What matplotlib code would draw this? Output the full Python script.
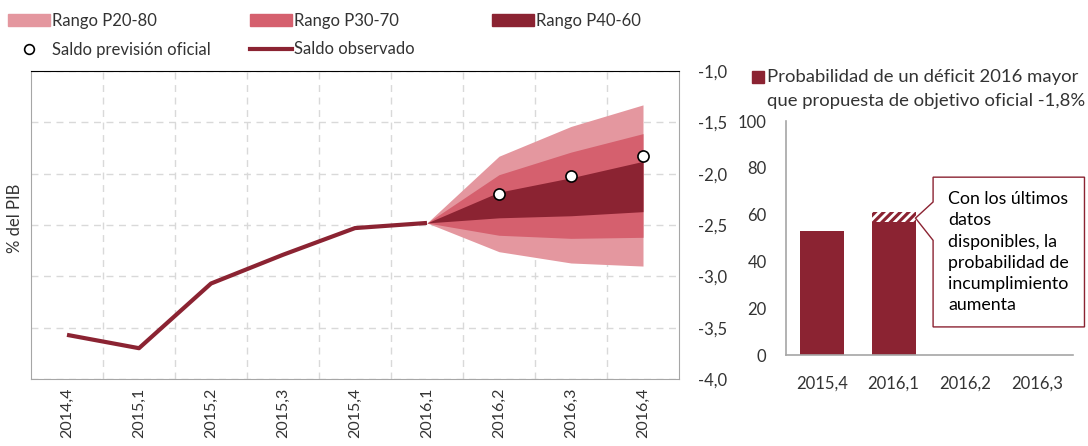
import numpy as np
import matplotlib
matplotlib.use('Agg')
import matplotlib.pyplot as plt
from matplotlib.patches import Patch, Polygon, Rectangle
from matplotlib.lines import Line2D

plt.rcParams['font.family'] = ['Lato', 'DejaVu Sans']
plt.rcParams['hatch.linewidth'] = 2.0

# data
quarters = ['2014,4', '2015,1', '2015,2', '2015,3', '2015,4',
            '2016,1', '2016,2', '2016,3', '2016,4']
observed = [-3.57, -3.70, -3.07, -2.79, -2.53, -2.48]

fan_q = ['2016,1', '2016,2', '2016,3', '2016,4']
p20 = [-2.48, -2.76, -2.87, -2.90]
p80 = [-2.48, -1.83, -1.54, -1.33]
p30 = [-2.48, -2.60, -2.63, -2.62]
p70 = [-2.48, -2.01, -1.79, -1.61]
p40 = [-2.48, -2.43, -2.41, -2.37]
p60 = [-2.48, -2.18, -2.04, -1.88]

official_q = ['2016,2', '2016,3', '2016,4']
official = [-2.20, -2.02, -1.83]

yticks = [-1.0, -1.5, -2.0, -2.5, -3.0, -3.5, -4.0]
ytick_labels = ['-1,0', '-1,5', '-2,0', '-2,5', '-3,0', '-3,5', '-4,0']

prob_q = ['2015,4', '2016,1', '2016,2', '2016,3']
prob = [53, 57, 0, 0]
prob_new = [0, 4, 0, 0]   # hatched increase with latest data
prob_ticks = [0, 20, 40, 60, 80, 100]

c_light = '#E4979F'
c_mid = '#D5606E'
c_dark = '#8B2332'
c_text = '#333333'
c_grid = '#D9D9D9'
c_spine = '#A6A6A6'

W, H = 1088, 446
fig = plt.figure(figsize=(W / 100, H / 100), dpi=100)

def fx(px):
    return px / W

def fy(py):
    return 1 - py / H

# ---- left: fan chart
ax = fig.add_axes([fx(31), fy(379), fx(679) - fx(31), fy(71) - fy(379)])
xi = {q: i for i, q in enumerate(quarters)}
xf = [xi[q] for q in fan_q]

ax.fill_between(xf, p20, p80, color=c_light, lw=0, zorder=2)
ax.fill_between(xf, p30, p70, color=c_mid, lw=0, zorder=3)
ax.fill_between(xf, p40, p60, color=c_dark, lw=0, zorder=4)
ax.plot(range(len(observed)), observed, color=c_dark, lw=3, zorder=5,
        solid_capstyle='butt')
ax.plot([xi[q] for q in official_q], official, 'o', ms=8, mfc='white',
        mec='black', mew=1.2, zorder=6)

ax.set_xlim(-0.5, len(quarters) - 0.5)
ax.set_ylim(-4.0, -1.0)
ax.set_xticks(range(len(quarters)))
ax.set_xticklabels(quarters, rotation=90, fontsize=11.5, color=c_text)
ax.set_xticks(np.arange(len(quarters) - 1) + 0.5, minor=True)
ax.set_yticks(yticks)
ax.set_yticklabels(ytick_labels, fontsize=12, color=c_text)
ax.yaxis.tick_right()
ax.tick_params(axis='both', which='both', length=0)
ax.tick_params(axis='y', pad=14)
ax.tick_params(axis='x', pad=6)
ax.grid(axis='y', which='major', color=c_grid, ls=(0, (5, 4)), lw=1, zorder=0)
ax.grid(axis='x', which='minor', color=c_grid, ls=(0, (5, 4)), lw=1, zorder=0)
for s in ['left', 'right', 'bottom']:
    ax.spines[s].set_color(c_spine)
ax.spines['top'].set_color('black')

fig.text(fx(15), fy(218), '% del PIB', rotation=90, ha='center', va='center',
         fontsize=12, color=c_text)

# legends
leg_kw = dict(frameon=False, fontsize=12, handlelength=2.5, handleheight=0.7,
              handletextpad=0.15, labelspacing=0.75, borderaxespad=0,
              borderpad=0, labelcolor=c_text)
fig.legend(handles=[Patch(color=c_light, label='Rango P20-80'),
                    Line2D([], [], marker='o', ls='none', ms=7, mfc='white',
                           mec='black', mew=1.2, label='Saldo previsión oficial')],
           loc='upper left', bbox_to_anchor=(fx(8), fy(13)), **leg_kw)
fig.legend(handles=[Patch(color=c_mid, label='Rango P30-70'),
                    Line2D([], [], color=c_dark, lw=3, label='Saldo observado')],
           loc='upper left', bbox_to_anchor=(fx(250), fy(13)), **leg_kw)
fig.legend(handles=[Patch(color=c_dark, label='Rango P40-60')],
           loc='upper left', bbox_to_anchor=(fx(492), fy(13)), **leg_kw)

# ---- right: probability bars
ax2 = fig.add_axes([fx(786), fy(355), fx(1073) - fx(786), fy(121) - fy(355)])
xb = np.arange(len(prob_q))
ax2.bar(xb, prob, width=0.61, color=c_dark, lw=0, zorder=2)
ax2.bar(xb, prob_new, bottom=prob, width=0.61, facecolor=c_dark,
        edgecolor='white', hatch='////', lw=0, zorder=2)
ax2.set_xlim(-0.5, len(prob_q) - 0.5)
ax2.set_ylim(0, 100)
ax2.set_xticks(xb)
ax2.set_xticklabels(prob_q, fontsize=12, color=c_text)
ax2.set_yticks(prob_ticks)
ax2.set_yticklabels([str(v) for v in prob_ticks], fontsize=12, color=c_text)
ax2.tick_params(axis='both', length=0)
ax2.tick_params(axis='y', pad=14)
ax2.tick_params(axis='x', pad=15)
for s in ['top', 'right']:
    ax2.spines[s].set_visible(False)
for s in ['left', 'bottom']:
    ax2.spines[s].set_color(c_spine)
    ax2.spines[s].set_linewidth(1.2)

# callout
callout = Polygon([(1.55, 76), (3.66, 76), (3.66, 12), (1.55, 12), (1.55, 49),
                   (1.305, 58.5), (1.55, 65.4)], closed=True, facecolor='white',
                  edgecolor=c_dark, lw=1, clip_on=False, zorder=3)
ax2.add_patch(callout)
ax2.text(1.76, 70, 'Con los últimos\ndatos\ndisponibles, la\nprobabilidad de\n'
         'incumplimiento\naumenta', ha='left', va='top', fontsize=12.8,
         color='black', linespacing=1.4, zorder=4)

# right legend
fig.patches.append(Rectangle((fx(752), fy(83)), fx(12), fy(71) - fy(83),
                             transform=fig.transFigure, color=c_dark))
fig.text(fx(767), fy(77), 'Probabilidad de un déficit 2016 mayor',
         ha='left', va='center', fontsize=13.3, color=c_text)
fig.text(fx(767), fy(101), 'que propuesta de objetivo oficial -1,8%',
         ha='left', va='center', fontsize=13.3, color=c_text)

fig.savefig('out.png', dpi=100)
